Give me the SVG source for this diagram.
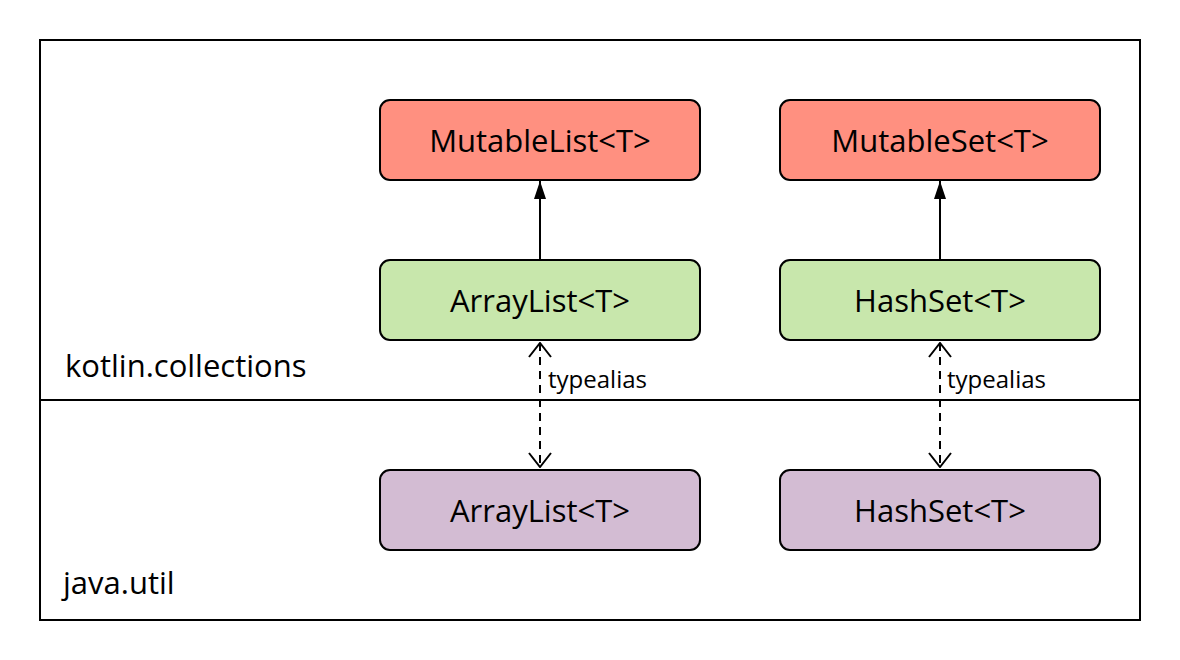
<svg xmlns="http://www.w3.org/2000/svg" width="1180" height="660" viewBox="0 0 1180 660">
<style>
text{font-family:"Open Sans","Noto Sans","DejaVu Sans",sans-serif;fill:#000}
.lbl{font-size:31px;text-anchor:middle;dominant-baseline:central}
.pkg{font-size:31px}
.ta{font-size:24px}
.box{stroke:#000;stroke-width:2}
.red{fill:#FF9080}
.green{fill:#C8E7AC}
.purple{fill:#D3BCD3}
.edge{stroke:#000;stroke-width:2;fill:none}
</style>
<defs>
<marker id="tri" viewBox="0 0 18 12" refX="18" refY="6" markerWidth="18" markerHeight="12" markerUnits="userSpaceOnUse" orient="auto">
<path d="M0,0 L18,6 L0,12 Z" fill="#000"/>
</marker>
<marker id="vee" viewBox="0 0 16 24" refX="15" refY="12" markerWidth="16" markerHeight="24" markerUnits="userSpaceOnUse" orient="auto-start-reverse">
<path d="M1,1 L15,12 L1,23" fill="none" stroke="#000" stroke-width="2"/>
</marker>
</defs>
<rect width="1180" height="660" fill="#fff"/>
<g id="packages">
<rect x="40" y="40" width="1100" height="580" fill="none" stroke="#000" stroke-width="2"/>
<line x1="40" y1="400" x2="1140" y2="400" stroke="#000" stroke-width="2"/>
<text class="pkg" x="65" y="377">kotlin.collections</text>
<text class="pkg" x="63" y="594">java.util</text>
</g>
<g id="connectors">
<line class="edge" x1="540" y1="260" x2="540" y2="181" marker-end="url(#tri)"/>
<line class="edge" x1="940" y1="260" x2="940" y2="181" marker-end="url(#tri)"/>
<line class="edge" x1="540" y1="343" x2="540" y2="467" stroke-dasharray="8,6" marker-start="url(#vee)" marker-end="url(#vee)"/>
<line class="edge" x1="940" y1="343" x2="940" y2="467" stroke-dasharray="8,6" marker-start="url(#vee)" marker-end="url(#vee)"/>
<text class="ta" x="548" y="388">typealias</text>
<text class="ta" x="947" y="388">typealias</text>
</g>
<g id="mutablelist"><rect class="box red" x="380" y="100" width="320" height="80" rx="10"/><text class="lbl" x="540" y="140">MutableList&lt;T&gt;</text></g>
<g id="mutableset"><rect class="box red" x="780" y="100" width="320" height="80" rx="10"/><text class="lbl" x="940" y="140">MutableSet&lt;T&gt;</text></g>
<g id="arraylist-k"><rect class="box green" x="380" y="260" width="320" height="80" rx="10"/><text class="lbl" x="540" y="300">ArrayList&lt;T&gt;</text></g>
<g id="hashset-k"><rect class="box green" x="780" y="260" width="320" height="80" rx="10"/><text class="lbl" x="940" y="300">HashSet&lt;T&gt;</text></g>
<g id="arraylist-j"><rect class="box purple" x="380" y="470" width="320" height="80" rx="10"/><text class="lbl" x="540" y="510">ArrayList&lt;T&gt;</text></g>
<g id="hashset-j"><rect class="box purple" x="780" y="470" width="320" height="80" rx="10"/><text class="lbl" x="940" y="510">HashSet&lt;T&gt;</text></g>
</svg>
